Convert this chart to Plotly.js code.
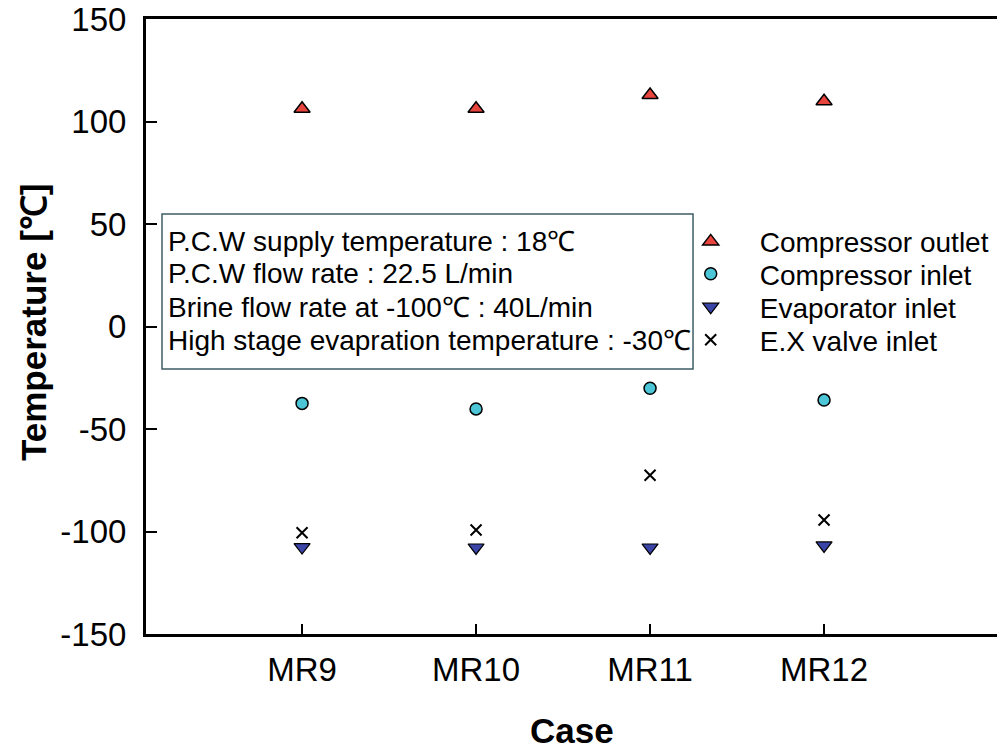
<!DOCTYPE html>
<html>
<head>
<meta charset="utf-8">
<script src="https://cdn.plot.ly/plotly-3.0.1.min.js"></script>
<style>
html,body{margin:0;padding:0;background:#fff;overflow:hidden;}
#chart{width:997px;height:749px;}
</style>
</head>
<body>
<div id="chart"></div>
<script>
// ---- data ----
var cases = ['MR9', 'MR10', 'MR11', 'MR12'];
var compressorOutlet = [106.2, 106.2, 112.9, 109.9];
var compressorInlet = [-37.5, -40.2, -30.1, -35.9];
var evaporatorInlet = [-107.6, -107.8, -107.8, -106.8];
var exValveInlet = [-100.6, -99.3, -72.6, -94.4];
var seriesNames = ['Compressor outlet', 'Compressor inlet', 'Evaporator inlet', 'E.X valve inlet'];
var yTicks = [-150, -100, -50, 0, 50, 100, 150];
var noteLines = [
  'P.C.W supply temperature : 18\u2103',
  'P.C.W flow rate : 22.5 L/min',
  'Brine flow rate at -100\u2103 : 40L/min',
  'High stage evapration temperature : -30\u2103'
];
var xTitle = 'Case';
var yTitle = 'Temperature [\u2103]';

var FONT = 'Liberation Sans, Arial, Helvetica, sans-serif';

var traces = [
  {x: cases, y: compressorOutlet, name: seriesNames[0], type: 'scatter', mode: 'markers', legend: 'legend',
   marker: {symbol: 'triangle-up', size: 14, color: '#e8453f', line: {color: '#000', width: 1.5}}},
  {x: cases, y: compressorInlet, name: seriesNames[1], type: 'scatter', mode: 'markers', legend: 'legend2',
   marker: {symbol: 'circle', size: 12, color: '#4cc6d6', line: {color: '#000', width: 1.5}}},
  {x: cases, y: evaporatorInlet, name: seriesNames[2], type: 'scatter', mode: 'markers', legend: 'legend3',
   marker: {symbol: 'triangle-down', size: 14, color: '#3b45a8', line: {color: '#000', width: 1.2}}},
  {x: cases, y: exValveInlet, name: seriesNames[3], type: 'scatter', mode: 'markers', legend: 'legend4',
   marker: {symbol: 'x-thin-open', size: 11, color: '#000', line: {color: '#000', width: 2}}}
];

// row centres (paper units) shared by the note lines and legend rows
var rowY = [0.6379, 0.5854, 0.5317, 0.4780];

var annotations = noteLines.map(function (t, i) {
  return {xref: 'paper', yref: 'paper', x: 0.0235, y: rowY[i], xanchor: 'left', yanchor: 'middle',
          text: t, showarrow: false, font: {family: FONT, size: 28, color: '#000'}};
});
annotations.push({xref: 'paper', yref: 'paper', x: 0.5, y: -0.1561, xanchor: 'center', yanchor: 'middle',
  text: xTitle, showarrow: false, font: {family: FONT, size: 35, color: '#000', weight: 'bold'}});
annotations.push({xref: 'paper', yref: 'paper', x: -0.1328, y: 0.5073, xanchor: 'center', yanchor: 'middle',
  text: yTitle, textangle: -90, showarrow: false, font: {family: FONT, size: 35, color: '#000', weight: 'bold'}});

function legendAt(y) {
  return {x: 0.606, y: y, xanchor: 'left', yanchor: 'middle', xref: 'paper', yref: 'paper',
          font: {family: FONT, size: 28, color: '#000'}, itemwidth: 88, bgcolor: 'rgba(0,0,0,0)',
          borderwidth: 0};
}

var layout = {
  width: 997, height: 749,
  margin: {l: 146, r: 0, t: 19, b: 115, pad: 0},
  paper_bgcolor: '#fff', plot_bgcolor: '#fff',
  font: {family: FONT, color: '#000'},
  showlegend: true,
  legend: legendAt(rowY[0]),
  legend2: legendAt(rowY[1]),
  legend3: legendAt(rowY[2]),
  legend4: legendAt(rowY[3]),
  xaxis: {
    type: 'category', range: [-0.897, 3.994], showgrid: false, zeroline: false,
    showline: true, linecolor: '#000', linewidth: 3, mirror: true,
    ticks: 'inside', ticklen: 10, tickwidth: 2, tickcolor: '#000',
    tickfont: {family: FONT, size: 33, color: '#000'}, ticklabelstandoff: 4
  },
  yaxis: {
    range: [-150, 150], tickvals: yTicks, ticktext: yTicks.map(String), showgrid: false, zeroline: false,
    showline: true, linecolor: '#000', linewidth: 3, mirror: false,
    ticks: 'inside', ticklen: 11, tickwidth: 2, tickcolor: '#000',
    tickfont: {family: FONT, size: 33, color: '#000'}, ticklabelstandoff: 10
  },
  shapes: [{type: 'rect', xref: 'paper', yref: 'paper', x0: 0.0188, x1: 0.6428, y0: 0.4309, y1: 0.6829,
            line: {color: '#3f5c66', width: 1.5}, fillcolor: 'rgba(0,0,0,0)', layer: 'above'}],
  annotations: annotations
};

Plotly.newPlot('chart', traces, layout, {displayModeBar: false, staticPlot: true});
</script>
</body>
</html>
